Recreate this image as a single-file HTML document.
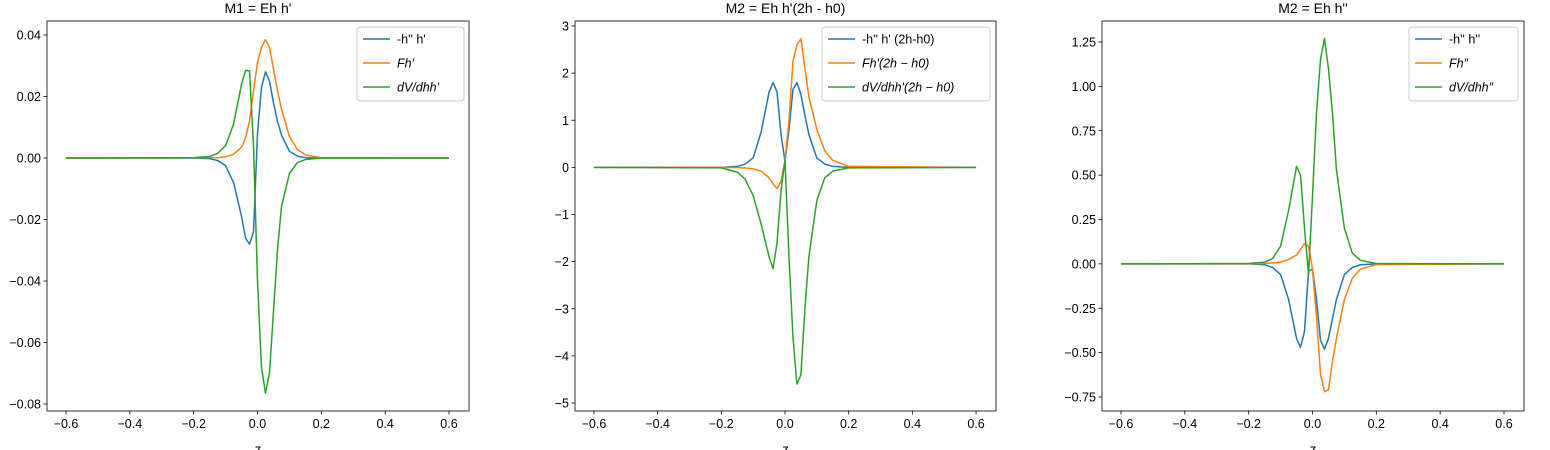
<!DOCTYPE html>
<html><head><meta charset="utf-8"><style>
body{margin:0;background:#fff;}
svg{display:block;font-family:"Liberation Sans","DejaVu Sans",sans-serif;}
</style></head><body>
<svg id="fig" width="1550" height="450" viewBox="0 0 1550 450" xmlns="http://www.w3.org/2000/svg"></svg>
<script>
const zs = [-0.6,-0.2,-0.15,-0.125,-0.1,-0.075,-0.05,-0.0375,-0.025,-0.0125,0,0.0125,0.025,0.0375,0.05,0.0625,0.075,0.1,0.125,0.15,0.2,0.6];
const p1Blue   = [0,0,-0.0002,-0.0008,-0.0025,-0.008,-0.019,-0.026,-0.028,-0.024,0.008,0.023,0.028,0.025,0.018,0.012,0.0075,0.0022,0.0006,0.0001,0,0];
const p1Orange = [0,0.0001,0.0002,0.0001,0.0004,0.0012,0.0035,0.0065,0.012,0.022,0.031,0.036,0.0385,0.036,0.029,0.022,0.016,0.007,0.0028,0.001,0.0001,0];
const p1Green  = [0,0.0001,0.0005,0.0015,0.004,0.011,0.024,0.0285,0.0283,0.004,-0.04,-0.068,-0.0765,-0.07,-0.05,-0.03,-0.016,-0.005,-0.0015,-0.0005,0,0];
const p2Blue   = [0,0,0.02,0.07,0.2,0.75,1.6,1.8,1.6,0.7,0.12,0.8,1.65,1.8,1.55,1.1,0.7,0.2,0.07,0.02,0,0];
const p2Orange = [0,-0.001,-0.005,-0.012,-0.03,-0.08,-0.22,-0.35,-0.45,-0.3,0.15,1.0,2.25,2.6,2.73,2.1,1.5,0.8,0.35,0.15,0.02,0];
const p2Green  = [0,-0.01,-0.1,-0.25,-0.6,-1.2,-1.9,-2.15,-1.6,-0.5,0.15,-1.9,-3.6,-4.6,-4.4,-3.0,-1.9,-0.7,-0.22,-0.08,-0.01,0];
const p3Blue   = [0,0,-0.005,-0.02,-0.06,-0.2,-0.42,-0.47,-0.38,-0.04,-0.03,-0.2,-0.43,-0.48,-0.42,-0.31,-0.2,-0.06,-0.02,-0.005,0,0];
const p3Orange = [0,0,0.002,0.005,0.01,0.025,0.05,0.08,0.115,0.1,-0.03,-0.3,-0.62,-0.72,-0.71,-0.55,-0.42,-0.2,-0.08,-0.03,-0.004,0];
const p3Green  = [0,0.002,0.01,0.03,0.1,0.3,0.55,0.5,0.2,-0.06,0.38,0.85,1.15,1.27,1.1,0.85,0.53,0.2,0.06,0.02,0.002,0];
const xTicks = [-0.6,-0.4,-0.2,0,0.2,0.4,0.6];
const xTickLabels = ["\u22120.6","\u22120.4","\u22120.2","0.0","0.2","0.4","0.6"];
const y1Ticks = [0.04,0.02,0,-0.02,-0.04,-0.06,-0.08];
const y1Labels = ["0.04","0.02","0.00","\u22120.02","\u22120.04","\u22120.06","\u22120.08"];
const y2Ticks = [3,2,1,0,-1,-2,-3,-4,-5];
const y2Labels = ["3","2","1","0","\u22121","\u22122","\u22123","\u22124","\u22125"];
const y3Ticks = [1.25,1,0.75,0.5,0.25,0,-0.25,-0.5,-0.75];
const y3Labels = ["1.25","1.00","0.75","0.50","0.25","0.00","\u22120.25","\u22120.50","\u22120.75"];

const NS="http://www.w3.org/2000/svg";
const svg=document.getElementById('fig');
function mk(tag,attrs,parent){const e=document.createElementNS(NS,tag);for(const k in attrs)e.setAttribute(k,attrs[k]);(parent||svg).appendChild(e);return e;}
const colors=["#1f77b4","#ff7f0e","#2ca02c"];

const panels=[
 {name:"m1",title:"M1 = Eh h'",left:47,right:469,yTop:0.04,yTopPx:35,yBot:-0.08,yBotPx:404,yt:y1Ticks,yl:y1Labels,series:[p1Blue,p1Orange,p1Green],
  legend:{x:357,w:107,labels:[["-h'' h'"],["F","h′"],["dV/dhh′"]]}},
 {name:"m2a",title:"M2 = Eh h'(2h - h0)",left:575,right:996,yTop:3,yTopPx:26,yBot:-5,yBotPx:403,yt:y2Ticks,yl:y2Labels,series:[p2Blue,p2Orange,p2Green],
  legend:{x:822,w:168,labels:[["-h'' h' (2h-h0)"],["F","h′(2h − h0)"],["dV/dhh′(2h − h0)"]]}},
 {name:"m2b",title:"M2 = Eh h''",left:1102,right:1524,yTop:1.25,yTopPx:42,yBot:-0.75,yBotPx:397,yt:y3Ticks,yl:y3Labels,series:[p3Blue,p3Orange,p3Green],
  legend:{x:1409,w:109,labels:[["-h'' h''"],["F","h″"],["dV/dhh″"]]}}
];
const axTop=21,axBottom=411;
panels.forEach((P,pi)=>{
  const g=mk('g',{});
  
  
  const x0=P.left+(P.right-P.left)*19/422;
  const span=(P.right-P.left)*383/422;
  const xs=z=>x0+(z+0.6)/1.2*span;
  const ys=v=>P.yTopPx+(P.yTop-v)/(P.yTop-P.yBot)*(P.yBotPx-P.yTopPx);
  P.series.forEach((arr,si)=>{
    const d=arr.map((v,i)=>(i?'L':'M')+xs(zs[i]).toFixed(2)+' '+ys(v).toFixed(2)).join(' ');
    const p=mk('path',{d:d,fill:'none',stroke:colors[si],'stroke-width':1.5,'stroke-linejoin':'round'},g);
    
    
  });
  const fr=mk('rect',{x:P.left,y:axTop,width:P.right-P.left,height:axBottom-axTop,fill:'none',stroke:'#000','stroke-width':0.8},g);
  
  
  xTicks.forEach((t,i)=>{
    const x=xs(t);
    mk('line',{x1:x,x2:x,y1:axBottom,y2:axBottom+3.5,stroke:'#000','stroke-width':0.8},g);
    const tx=mk('text',{x:x,y:axBottom+17,'font-size':12.5,'text-anchor':'middle',fill:'#000'},g);
    tx.textContent=xTickLabels[i];
    
    
  });
  P.yt.forEach((t,i)=>{
    const y=ys(t);
    mk('line',{x1:P.left-3.5,x2:P.left,y1:y,y2:y,stroke:'#000','stroke-width':0.8},g);
    const tx=mk('text',{x:P.left-6,y:y+4.5,'font-size':12.5,'text-anchor':'end',fill:'#000'},g);
    tx.textContent=P.yl[i];
    
    
  });
  const ti=mk('text',{x:(P.left+P.right)/2,y:13,'font-size':14,'text-anchor':'middle',fill:'#000'},g);
  ti.textContent=P.title;
  
  
  const xl=mk('text',{x:(P.left+P.right)/2,y:454,'font-size':13.5,'text-anchor':'middle',fill:'#000'},g);
  xl.textContent='z';
  
  
  const L=P.legend;
  const lg=mk('g',{},g);
  
  
  mk('rect',{x:L.x,y:27,width:L.w,height:74,rx:3,fill:'#fff','fill-opacity':0.8,stroke:'#ccc','stroke-width':1},lg);
  L.labels.forEach((lab,i)=>{
    const y=39+i*24;
    mk('line',{x1:L.x+6,x2:L.x+33,y1:y,y2:y,stroke:colors[i],'stroke-width':1.5},lg);
    const t=mk('text',{x:L.x+40,y:y+4.5,'font-size':12.5,fill:'#000','font-style':i===0?'normal':'italic'},lg);
    t.textContent=lab.join('');
    
    
  });
});
</script>
</body></html>
